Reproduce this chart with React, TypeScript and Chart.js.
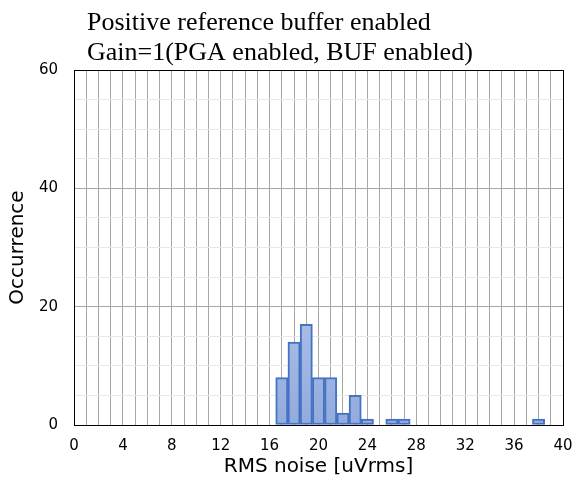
import React, { useEffect, useRef } from "react";
import { Chart, registerables } from "chart.js";

Chart.register(...registerables);

const titleLines = [
  "Positive reference buffer enabled",
  "Gain=1(PGA enabled, BUF enabled)",
];
const xAxisTitle = "RMS noise [uVrms]";
const yAxisTitle = "Occurrence";

// histogram bins (centre of each 1 uVrms bin) and counts
const binCenters = [17, 18, 19, 20, 21, 22, 23, 24, 26, 27, 38];
const occurrences = [8, 14, 17, 8, 8, 2, 5, 1, 1, 1, 1];

const xMin = 0;
const xMax = 40;
const xLabelStep = 4;
const yMin = 0;
const yMax = 60;
const yMinorStep = 5;
const yLabelStep = 20;

const titlePlugin = {
  id: "leftTitle",
  afterDraw(chart: any) {
    const ctx = chart.ctx;
    ctx.save();
    ctx.fillStyle = "#000";
    ctx.font = '26px "Liberation Serif", "Times New Roman", serif';
    ctx.textAlign = "left";
    ctx.textBaseline = "alphabetic";
    ctx.fillText(titleLines[0], 87, 30);
    ctx.fillText(titleLines[1], 87, 60);
    ctx.restore();
  },
};

export default function App() {
  const ref = useRef<HTMLCanvasElement | null>(null);

  useEffect(() => {
    document.body.style.margin = "0";
    if (!ref.current) return;
    const data = binCenters.map((x, i) => ({ x, y: occurrences[i] }));
    const chart = new Chart(ref.current, {
      type: "bar",
      data: {
        datasets: [
          {
            data: data as any,
            backgroundColor: (c: any) => {
              const area = c.chart.chartArea;
              if (!area) return "#a3b7e2";
              const g = c.chart.ctx.createLinearGradient(0, area.top + 200, 0, area.bottom);
              g.addColorStop(0, "#b3c4ea");
              g.addColorStop(1, "#93abdc");
              return g;
            },
            borderColor: "#4472c4",
            borderWidth: 2,
            borderSkipped: false,
            barPercentage: 1,
            categoryPercentage: 1,
          },
        ],
      },
      options: {
        animation: false,
        responsive: true,
        maintainAspectRatio: false,
        layout: { padding: { left: 0, right: 13, top: 70, bottom: 0 } },
        plugins: {
          legend: { display: false },
          tooltip: { enabled: false },
          title: { display: false },
        },
        scales: {
          x: {
            type: "linear",
            min: xMin,
            max: xMax,
            offset: false,
            grid: {
              offset: false,
              drawTicks: false,
              color: (c: any) => (c.tick && c.tick.value === xMax ? "#000" : "#a6a6a6"),
              lineWidth: 1,
            },
            border: { display: true, color: "#000", width: 1 },
            ticks: {
              stepSize: 1,
              autoSkip: false,
              maxRotation: 0,
              padding: 12,
              color: "#000",
              font: { family: "DejaVu Sans", size: 15 },
              callback: (v: any) => (Number(v) % xLabelStep === 0 ? String(v) : ""),
            },
            title: {
              display: true,
              text: xAxisTitle,
              color: "#000",
              font: { family: "DejaVu Sans", size: 20 },
              padding: { top: 0, bottom: 2 },
            },
            afterFit: (s: any) => {
              s.height = 56;
              s.paddingLeft = 0;
              s.paddingRight = 0;
            },
          },
          y: {
            type: "linear",
            min: yMin,
            max: yMax,
            grid: {
              drawTicks: false,
              color: (c: any) => {
                const v = c.tick ? c.tick.value : 0;
                if (v === yMax) return "#000";
                return v % yLabelStep === 0 ? "#a6a6a6" : "#e8e8e8";
              },
              lineWidth: 1,
            },
            border: { display: true, color: "#000", width: 1 },
            ticks: {
              stepSize: yMinorStep,
              autoSkip: false,
              padding: 16,
              color: "#000",
              font: { family: "DejaVu Sans", size: 15 },
              callback: (v: any) => (Number(v) % yLabelStep === 0 ? String(v) : ""),
            },
            title: {
              display: true,
              text: yAxisTitle,
              color: "#000",
              font: { family: "DejaVu Sans", size: 20 },
              padding: { top: 6, bottom: 0 },
            },
            afterFit: (s: any) => {
              s.width = 74;
            },
          },
        },
      },
      plugins: [titlePlugin],
    });
    return () => chart.destroy();
  }, []);

  return (
    <div style={{ position: "absolute", left: 0, top: 0, width: 576, height: 481 }}>
      <canvas ref={ref} />
    </div>
  );
}
